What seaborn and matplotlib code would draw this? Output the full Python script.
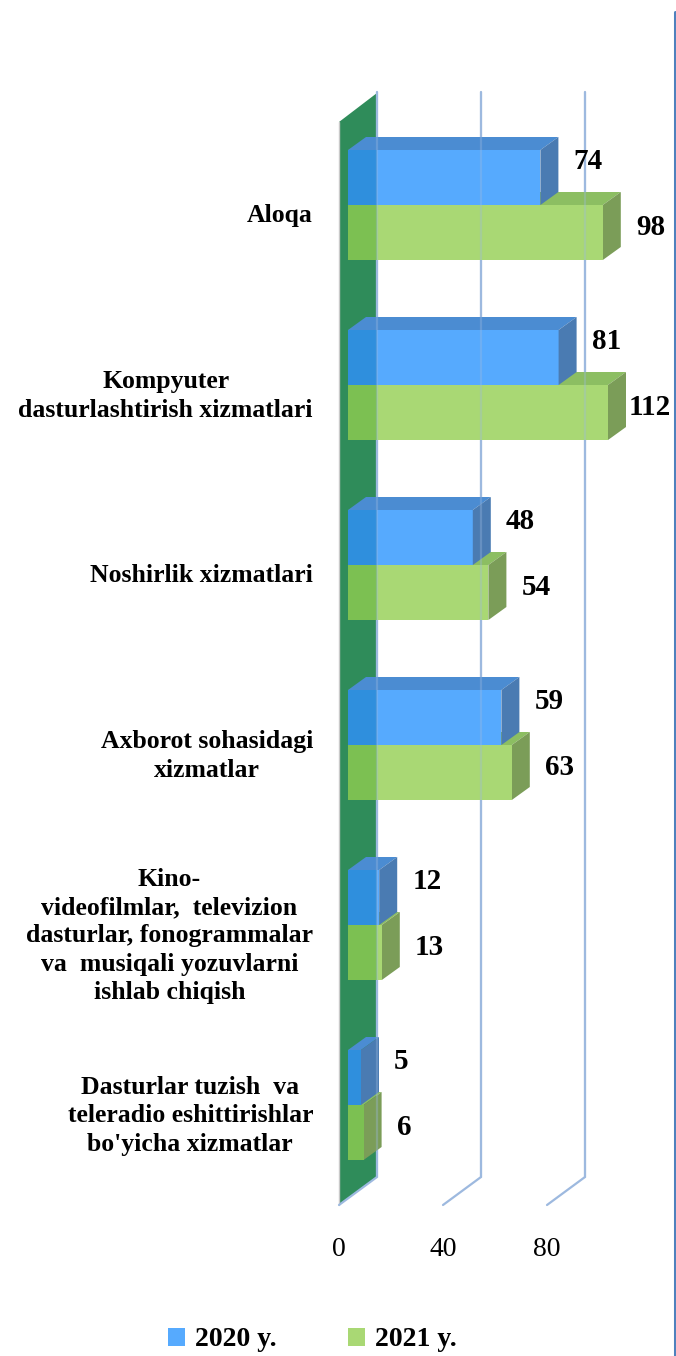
import pandas as pd
import numpy as np
import seaborn as sns
import matplotlib.pyplot as plt
from matplotlib.patches import Polygon, Rectangle
from matplotlib.lines import Line2D

# Dados
categorias = ["Aloqa",
              "Kompyuter\ndasturlashtirish xizmatlari",
              "Noshirlik xizmatlari",
              "Axborot sohasidagi\nxizmatlar",
              "Kino-\nvideofilmlar,  televizion\ndasturlar, fonogrammalar\nva  musiqali yozuvlarni\nishlab chiqish",
              "Dasturlar tuzish  va\nteleradio eshittirishlar\nbo'yicha xizmatlar"]
anos = ["2020 y.", "2021 y."]
valores_2020 = [74, 81, 48, 59, 12, 5]
valores_2021 = [98, 112, 54, 63, 13, 6]
ticks_x = [0, 40, 80]
x_max = 100  # eixo cortado em 100 como no original

df = pd.DataFrame({
    "categoria": categorias * 2,
    "ano": [anos[0]] * len(categorias) + [anos[1]] * len(categorias),
    "valor": valores_2020 + valores_2021,
})

# Estilo / geometria (pixels -> dados)
W, H = 676, 1356
PX_X = 2.6      # px por unidade
X0_PX = 348     # x=0 da face frontal das barras
PX_Y = 180      # px por categoria
Y0_PX = 205     # centro da primeira categoria

def dx(px):
    return px / PX_X

def dy(px):
    return px / PX_Y

azul = "#56AAFE"
verde = "#A9D874"
azul_topo, azul_lado = "#4B8CD2", "#4A7BB2"
verde_topo, verde_lado = "#8CBE62", "#7B9D58"
azul_parede, verde_parede = "#2F8FDD", "#7CC052"
parede = "#2F8C5A"
grade = "#9DB9DF"

sns.set_style("white")
plt.rcParams['font.family'] = ['Liberation Serif', 'DejaVu Serif']
plt.rcParams['text.color'] = 'black'

fig = plt.figure(figsize=(W / 100, H / 100), dpi=100)
ax = fig.add_axes([0, 0, 1, 1])

sns.barplot(data=df, y="categoria", x="valor", hue="ano", orient="h",
            palette=[azul, verde], saturation=1, width=110 / PX_Y,
            linewidth=0, zorder=2, ax=ax)

ax.set_xlim(-X0_PX / PX_X, (W - X0_PX) / PX_X)
ax.set_ylim((H - Y0_PX) / PX_Y, -Y0_PX / PX_Y)
ax.set_axis_off()

# Parede (plano x=0) em perspectiva
xf, xb = dx(-9), dx(29)
y_top_f, y_top_b = dy(122 - Y0_PX), dy(93 - Y0_PX)
y_bot_f, y_bot_b = dy(1205 - Y0_PX), dy(1177 - Y0_PX)
ax.add_patch(Polygon([(xf, y_top_f), (xb, y_top_b), (xb, y_bot_b), (xf, y_bot_f)],
                     closed=True, facecolor=parede, edgecolor="none", zorder=0.5))
ax.plot([xf, xf], [y_top_f, y_bot_f], color="#C9C9C9", lw=1, zorder=0.55)

# Linhas de grade (plano de fundo + piso)
for t in ticks_x:
    ax.plot([t + xb, t + xb, t + xf], [dy(92 - Y0_PX), y_bot_b, y_bot_f],
            color=grade, lw=1.6, zorder=0.6, solid_joinstyle="miter")
    ax.plot([t + xb, t + xb], [dy(92 - Y0_PX), y_bot_b],
            color=grade, lw=1.6, alpha=0.35, zorder=4)
    ax.text(t + xf, dy(1250 - Y0_PX), str(t), ha="center", va="center",
            fontsize=20, color="black")

# Faces 3D das barras
ddx, ddy = dx(18), dy(-13)
cores = [(azul_topo, azul_lado, azul_parede, 3), (verde_topo, verde_lado, verde_parede, 1)]
desloc_rotulo = [dy(-16), dy(-5)]
for k, cont in enumerate(ax.containers):
    topo, lado, escuro, z = cores[k]
    for bar, v in zip(cont.patches, [valores_2020, valores_2021][k]):
        x0, y0, h = bar.get_x(), bar.get_y(), bar.get_height()
        w = min(bar.get_width(), x_max)
        cortada = bar.get_width() > x_max
        bar.set_width(w)
        ax.add_patch(Polygon([(x0, y0), (x0 + w, y0), (x0 + w + ddx, y0 + ddy), (x0 + ddx, y0 + ddy)],
                             closed=True, facecolor=topo, edgecolor="none", zorder=z))
        ax.add_patch(Polygon([(x0 + w, y0), (x0 + w, y0 + h), (x0 + w + ddx, y0 + h + ddy), (x0 + w + ddx, y0 + ddy)],
                             closed=True, facecolor=lado, edgecolor="none", zorder=z))
        ax.add_patch(Rectangle((x0, y0), min(w, xb), h, facecolor=escuro,
                               edgecolor="none", zorder=2.5))
        folga = dx(3) if cortada else dx(15)
        ax.text(x0 + w + ddx + folga, y0 + h / 2 + desloc_rotulo[k], str(v),
                ha="left", va="center", fontsize=21, fontweight="bold", zorder=5)

# Rótulos das categorias
for i, cat in enumerate(categorias):
    ax.text(dx(313 - X0_PX), i + dy(11), cat, ha="right", va="center",
            multialignment="center", fontsize=18.5, fontweight="bold",
            linespacing=1.3)

# Legenda
sns.move_legend(ax, "center", bbox_to_anchor=(0.462, 16 / H), ncol=2,
                frameon=False, title=None,
                handlelength=0.6, handleheight=0.6, handletextpad=0.35,
                columnspacing=2.6, prop={"weight": "bold", "size": 20})

# Borda azul à direita
fig.add_artist(Line2D([674.5 / W, 674.5 / W], [1 - 12 / H, 0], color="#4F81BD", lw=2.2))

plt.savefig("out.png", dpi=100)
